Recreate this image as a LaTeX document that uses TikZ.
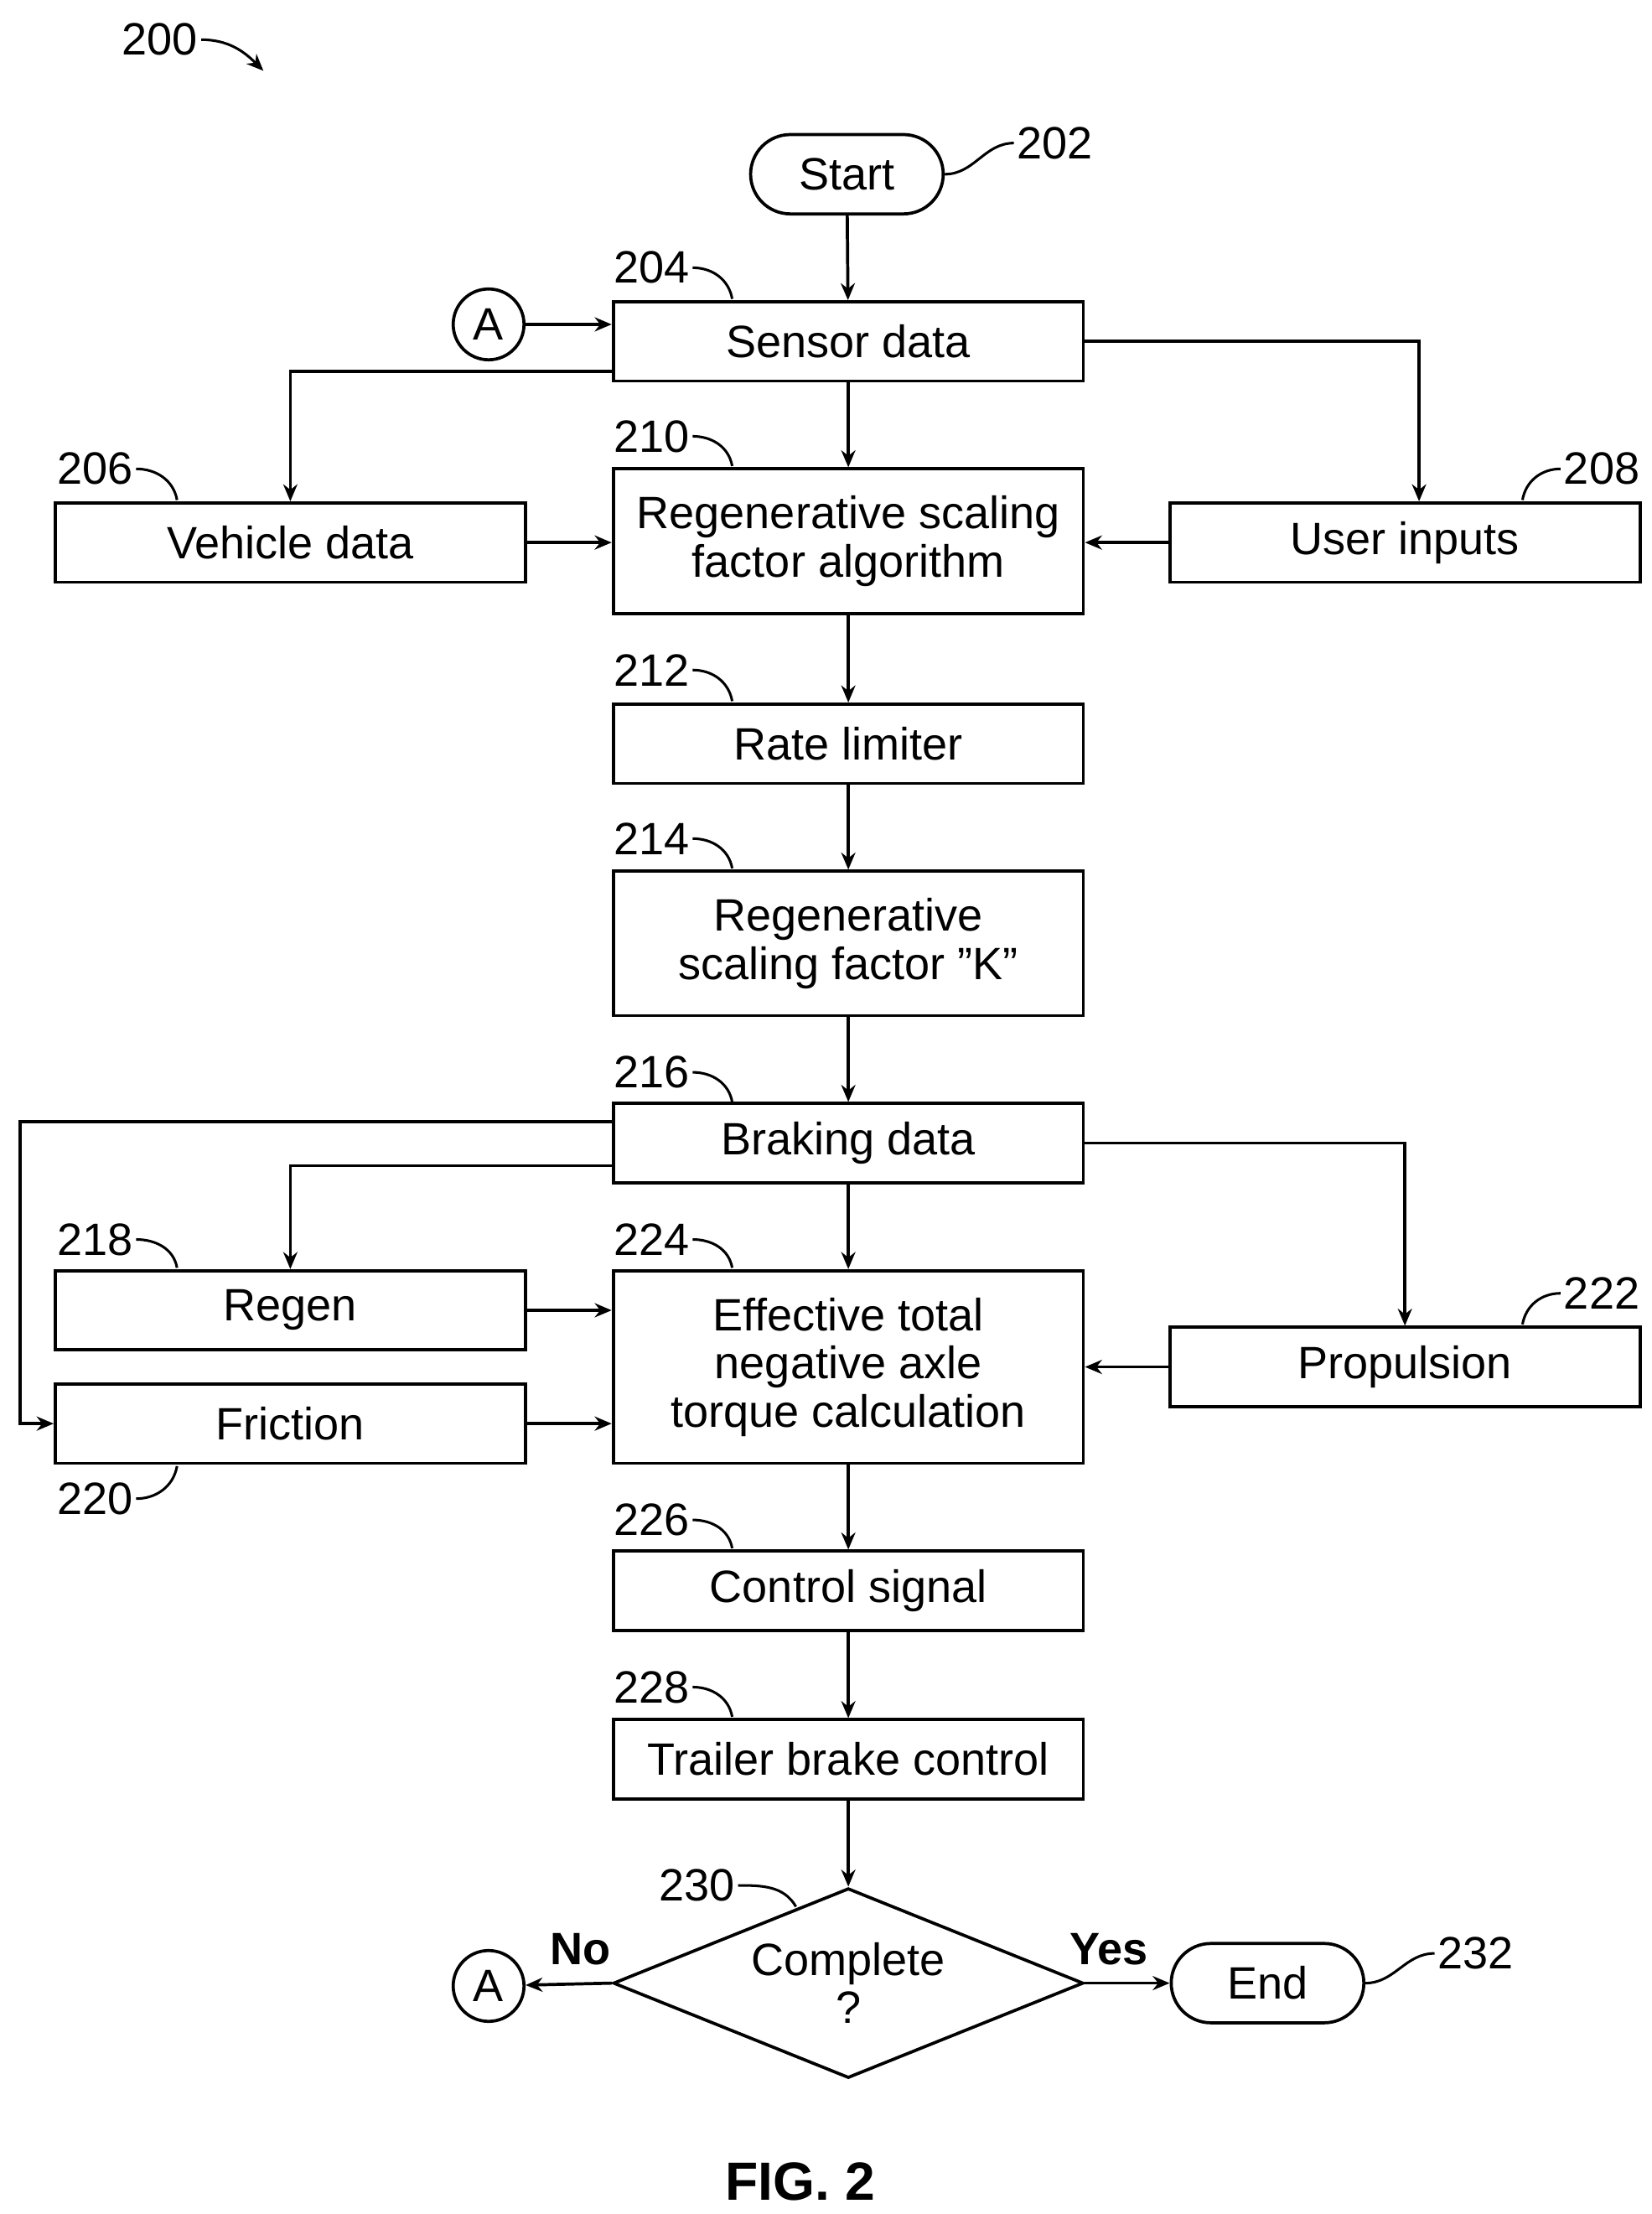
\documentclass[tikz,border=0pt]{standalone}
\usepackage{fontspec}
\setmainfont{Liberation Sans}
\usetikzlibrary{shapes.geometric,arrows.meta}

\tikzset{
  box/.style={draw, line width=1.1pt, minimum width=166pt, minimum height=28pt, inner sep=1pt, align=center, font=\fontsize{16}{17}\selectfont},
  term/.style={draw, line width=1.1pt, rounded corners=14pt, minimum width=68pt, minimum height=28pt, font=\fontsize{16}{17}\selectfont},
  conn/.style={draw, circle, line width=1.1pt, minimum size=25pt, inner sep=0pt, font=\fontsize{16}{17}\selectfont},
  num/.style={font=\fontsize{16}{17}\selectfont, inner sep=1pt},
  arr/.style={-{Stealth[length=6pt,width=5pt]}, line width=1.1pt},
  lead/.style={line width=0.9pt}
}

\begin{document}
\begin{tikzpicture}[x=0.5pt,y=-0.5pt]
\useasboundingbox (0,0) rectangle (1166,1563);

% terminals and connectors
\node[term] (start) at (598,123) {Start};
\node[conn] (A1) at (345,229) {A};
\node[conn] (A2) at (345,1402) {A};
\node[term] (end) at (895,1400) {End};

% boxes
\node[box] (sensor) at (599,241) {Sensor data};
\node[box] (vehicle) at (205,383) {Vehicle data};
\node[box] (user) at (992,383) {User inputs};
\node[box, minimum height=51pt] (algo) at (599,382) {Regenerative scaling\\factor algorithm};
\node[box] (rate) at (599,525) {Rate limiter};
\node[box, minimum height=51pt] (K) at (599,666) {Regenerative\\scaling factor "K"};
\node[box] (braking) at (599,807) {Braking data};
\node[box] (regen) at (205,925) {Regen};
\node[box] (friction) at (205,1005) {Friction};
\node[box, minimum height=68pt] (torque) at (599,965) {Effective total\\negative axle\\torque calculation};
\node[box] (prop) at (992,965) {Propulsion};
\node[box] (control) at (599,1123) {Control signal};
\node[box] (trailer) at (599,1242) {Trailer brake control};
\node[diamond, draw, line width=1.1pt, minimum width=166pt, minimum height=67pt, inner sep=0pt, aspect=2.5, align=center, font=\fontsize{16}{17}\selectfont] (done) at (599,1400) {Complete\\?};

% reference numerals
\node[num] (n200) at (113,28) {200};
\node[num] (n202) at (745,101) {202};
\node[num] (n204) at (460,189) {204};
\node[num] (n206) at (67,331) {206};
\node[num] (n208) at (1131,331) {208};
\node[num] (n210) at (460,308) {210};
\node[num] (n212) at (460,473) {212};
\node[num] (n214) at (460,592) {214};
\node[num] (n216) at (460,757) {216};
\node[num] (n218) at (67,875) {218};
\node[num] (n220) at (67,1058) {220};
\node[num] (n222) at (1131,913) {222};
\node[num] (n224) at (460,875) {224};
\node[num] (n226) at (460,1073) {226};
\node[num] (n228) at (460,1191) {228};
\node[num] (n230) at (492,1331) {230};
\node[num] (n232) at (1042,1379) {232};
\node[num, font=\fontsize{16}{17}\selectfont\bfseries] (no) at (410,1376) {No};
\node[num, font=\fontsize{16}{17}\selectfont\bfseries] (yes) at (783,1376) {Yes};
\node[num, font=\fontsize{19}{20}\selectfont\bfseries] (fig) at (565,1540) {FIG. 2};

% leaders
\draw[arr, line width=0.9pt] (n200.east) to[out=0,in=135] (186,50);
\draw[lead] (start.east) to[out=0,in=180] (n202.west);
\draw[lead] (n204.east) to[out=0,in=100] (517,211);
\draw[lead] (n210.east) to[out=0,in=100] (517,329);
\draw[lead] (n212.east) to[out=0,in=100] (517,495);
\draw[lead] (n214.east) to[out=0,in=100] (517,613);
\draw[lead] (n216.east) to[out=0,in=100] (517,778);
\draw[lead] (n224.east) to[out=0,in=100] (517,895);
\draw[lead] (n226.east) to[out=0,in=100] (517,1093);
\draw[lead] (n228.east) to[out=0,in=100] (517,1212);
\draw[lead] (n206.east) to[out=0,in=100] (125,353);
\draw[lead] (n218.east) to[out=0,in=100] (125,895);
\draw[lead] (n220.east) to[out=0,in=-100] (125,1035);
\draw[lead] (n208.west) to[out=180,in=80] (1075,353);
\draw[lead] (n222.west) to[out=180,in=80] (1075,935);
\draw[lead] (n230.east) to[out=0,in=120] (562,1346);
\draw[lead] (end.east) to[out=0,in=180] (n232.west);

% flow
\draw[arr] (start) -- (sensor);
\draw[arr] (A1) -- (A1 -| sensor.west);
\draw[arr] ([yshift=-10.5pt]sensor.west) -| (vehicle.north);
\draw[arr] (sensor.east) -| ([xshift=5pt]user.north);
\draw[arr] (sensor) -- (algo);
\draw[arr] (vehicle) -- (vehicle -| algo.west);
\draw[arr] (user) -- (user -| algo.east);
\draw[arr] (algo) -- (rate);
\draw[arr] (rate) -- (K);
\draw[arr] (K) -- (braking);
\draw[arr] ([yshift=7.5pt]braking.west) -- (14,792) |- (friction.west);
\draw[arr] ([yshift=-8pt]braking.west) -| (regen.north);
\draw[arr] (braking.east) -| (prop.north);
\draw[arr] (braking) -- (torque);
\draw[arr] (regen) -- (regen -| torque.west);
\draw[arr] (friction) -- (friction -| torque.west);
\draw[arr] (prop) -- (torque);
\draw[arr] (torque) -- (control);
\draw[arr] (control) -- (trailer);
\draw[arr] (trailer) -- (done);
\draw[arr] (done.west) -- (A2);
\draw[arr] (done.east) -- (end);
\end{tikzpicture}
\end{document}
